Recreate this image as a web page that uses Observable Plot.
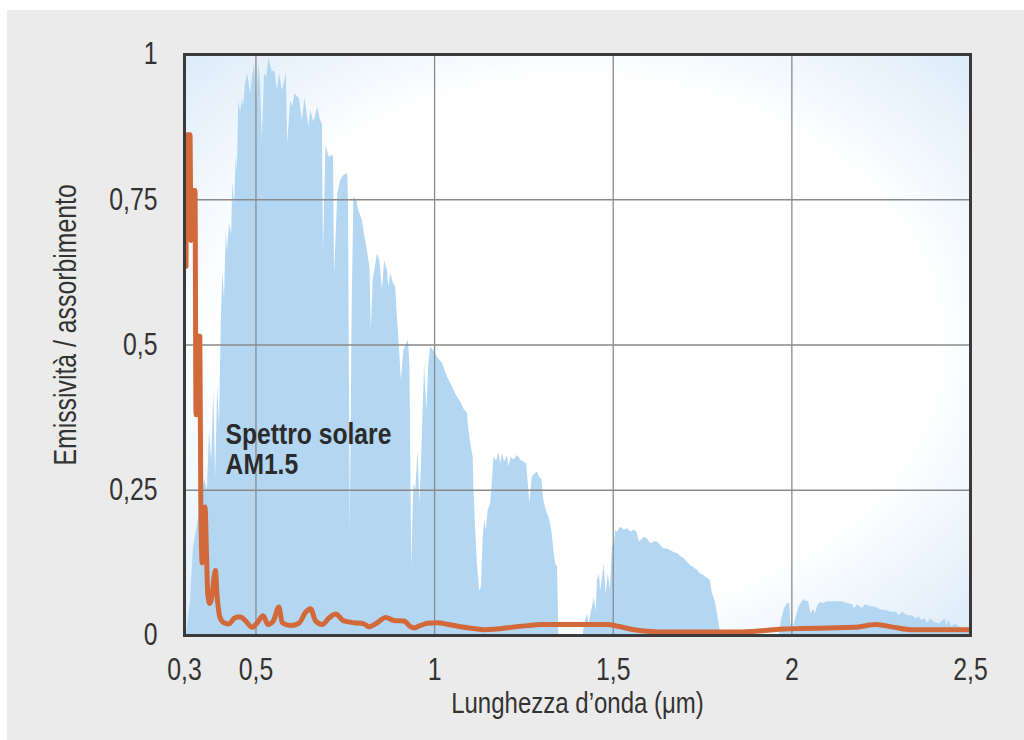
<!DOCTYPE html>
<html><head><meta charset="utf-8">
<script src="https://cdn.jsdelivr.net/npm/d3@7"></script>
<script src="https://cdn.jsdelivr.net/npm/@observablehq/plot@0.6"></script>
<style>
html,body{margin:0;padding:0;background:#fff;width:1024px;height:740px;overflow:hidden}
#bg{position:absolute;left:7px;top:10px;width:1017px;height:730px;background:#ebebeb}
#chart{position:absolute;left:0;top:0}
</style></head><body><div id="bg"></div><div id="chart"></div>
<script>
// Solar spectrum AM1.5 (normalised), [wavelength µm, value]
const solarUV = [[0.300,0],[0.305,0],[0.317,0.06],[0.325,0.15],[0.336,0.19],[0.345,0.22],[0.356,0.27],[0.364,0.25],[0.370,0.35],[0.376,0.30],[0.382,0.42],[0.387,0.27],[0.393,0.43],[0.398,0.36],[0.403,0.54],[0.407,0.625],[0.412,0.58],[0.417,0.70],[0.420,0.66],[0.426,0.71],[0.432,0.69],[0.435,0.78],[0.440,0.74],[0.445,0.826],[0.448,0.80],[0.452,0.921],[0.457,0.90],[0.462,0.924],[0.465,0.91],[0.471,0.95],[0.476,0.967],[0.480,0.955],[0.485,0.932],[0.490,0.96],[0.496,0.984],[0.502,0.921],[0.508,0.984],[0.513,0.95],[0.518,0.852],[0.524,0.967],[0.530,0.96],[0.536,0.993],[0.546,0.970],[0.553,0.972],[0.560,0.938]];
const solarVisible = [[0.566,0.967],[0.574,0.938],[0.585,0.967],[0.589,0.846],[0.597,0.921],[0.603,0.91],[0.609,0.932],[0.622,0.924],[0.630,0.886],[0.637,0.926],[0.643,0.90],[0.648,0.875],[0.653,0.904],[0.662,0.884],[0.673,0.909],[0.681,0.886],[0.686,0.881],[0.689,0.66],[0.696,0.843],[0.705,0.823],[0.717,0.826],[0.720,0.62],[0.729,0.76],[0.737,0.783],[0.746,0.792],[0.757,0.795],[0.759,0.74],[0.764,0.176],[0.769,0.55],[0.774,0.754],[0.782,0.749],[0.788,0.731],[0.798,0.714]];
const solarNIR1 = [[0.802,0.697],[0.810,0.67],[0.819,0.634],[0.823,0.525],[0.828,0.61],[0.840,0.657],[0.847,0.645],[0.854,0.594],[0.860,0.645],[0.868,0.628],[0.872,0.60],[0.877,0.623],[0.885,0.606],[0.891,0.60],[0.896,0.548],[0.901,0.502],[0.907,0.439],[0.914,0.49],[0.922,0.502],[0.927,0.508],[0.931,0.462],[0.936,0.117],[0.942,0.261],[0.947,0.25],[0.954,0.318],[0.959,0.226],[0.966,0.347],[0.972,0.468],[0.978,0.387],[0.984,0.468],[0.989,0.496],[0.998,0.49],[1.008,0.479]];
const solarNIR2 = [[1.022,0.468],[1.036,0.445],[1.045,0.434],[1.054,0.422],[1.064,0.41],[1.073,0.402],[1.082,0.39],[1.092,0.382],[1.096,0.353],[1.103,0.324],[1.108,0.307],[1.110,0.255],[1.115,0.181],[1.120,0.123],[1.126,0.077],[1.131,0.083],[1.136,0.169],[1.140,0.198],[1.145,0.181],[1.150,0.215],[1.157,0.227],[1.162,0.267],[1.166,0.307],[1.174,0.30],[1.180,0.316],[1.185,0.295],[1.190,0.313],[1.196,0.298],[1.204,0.31],[1.208,0.29],[1.215,0.307],[1.222,0.302],[1.232,0.31],[1.241,0.302],[1.250,0.298],[1.258,0.295],[1.261,0.27],[1.267,0.227],[1.273,0.272],[1.280,0.278],[1.288,0.281],[1.294,0.272],[1.300,0.27],[1.306,0.232],[1.314,0.212],[1.320,0.204],[1.328,0.181],[1.334,0.146],[1.339,0.123],[1.344,0.118],[1.348,0]];
const solarNIR3 = [[1.416,0],[1.420,0.02],[1.428,0.037],[1.432,0.02],[1.442,0.049],[1.447,0.066],[1.452,0.04],[1.456,0.095],[1.461,0.106],[1.465,0.077],[1.475,0.123],[1.480,0.07],[1.486,0.106],[1.492,0.08],[1.498,0.152],[1.503,0.155],[1.507,0.181],[1.512,0.177],[1.517,0.184],[1.523,0.186],[1.531,0.181],[1.540,0.184],[1.549,0.178],[1.559,0.181],[1.566,0.178],[1.573,0.161],[1.579,0.164],[1.587,0.169],[1.596,0.166],[1.605,0.158],[1.615,0.161],[1.624,0.161],[1.633,0.155],[1.643,0.149],[1.652,0.149],[1.661,0.146],[1.670,0.143],[1.680,0.141],[1.689,0.136],[1.699,0.132],[1.708,0.126],[1.717,0.12],[1.727,0.116],[1.736,0.112],[1.745,0.106],[1.755,0.103],[1.764,0.098],[1.771,0.095],[1.778,0.072],[1.787,0.055],[1.792,0.037],[1.801,0]];
const solarNIR4 = [[1.965,0],[1.971,0.026],[1.979,0.046],[1.988,0.055],[1.994,0.055],[1.997,0.02],[2.005,0.015],[2.011,0.029],[2.020,0.049],[2.029,0.058],[2.035,0.062],[2.041,0.058],[2.047,0.059],[2.053,0.037],[2.061,0.045],[2.065,0.037],[2.073,0.052],[2.081,0.057],[2.090,0.055],[2.098,0.058],[2.119,0.058],[2.142,0.058],[2.156,0.055],[2.170,0.053],[2.175,0.046],[2.184,0.053],[2.192,0.049],[2.197,0.046],[2.206,0.053],[2.220,0.050],[2.236,0.048],[2.250,0.044],[2.264,0.043],[2.278,0.040],[2.292,0.040],[2.301,0.034],[2.310,0.040],[2.324,0.034],[2.338,0.034],[2.347,0.029],[2.357,0.032],[2.364,0.026],[2.372,0.029],[2.380,0.021],[2.389,0.029],[2.399,0.023],[2.413,0.020],[2.429,0.029],[2.434,0.017],[2.440,0.026],[2.447,0.015],[2.460,0.020],[2.466,0.015],[2.492,0.012],[2.500,0.010]];

// Emissivity / absorption curve, [wavelength µm, value]
const emissivityUV = [[0.3042,0.635],[0.3070,0.862],[0.3154,0.862],[0.3182,0.68],[0.3210,0.766],[0.3294,0.766],[0.3322,0.38],[0.3350,0.515],[0.3429,0.515],[0.3457,0.22],[0.3496,0.125],[0.3532,0.20],[0.3574,0.221],[0.3616,0.14],[0.3653,0.07],[0.3709,0.055],[0.3776,0.07],[0.3826,0.10],[0.3868,0.112],[0.3910,0.07],[0.3952,0.045],[0.3989,0.032]];
const emissivityVisible = [[0.4101,0.022],[0.4241,0.02],[0.4381,0.029],[0.4485,0.032],[0.4569,0.032],[0.4709,0.025],[0.4896,0.014],[0.5036,0.022],[0.5204,0.034],[0.5333,0.019],[0.5485,0.025],[0.5641,0.049],[0.5737,0.022],[0.5969,0.017],[0.6202,0.021],[0.6389,0.04],[0.6529,0.046],[0.6669,0.025],[0.6857,0.019],[0.7042,0.03],[0.7230,0.037],[0.7462,0.025],[0.7742,0.022],[0.8022,0.02],[0.8162,0.015],[0.8398,0.022],[0.8630,0.031],[0.8863,0.026],[0.9143,0.025],[0.9331,0.015],[0.9423,0.013],[0.9555,0.016],[0.9798,0.021]];
const emissivityIR = [[1.0078,0.022],[1.0395,0.019],[1.0731,0.015],[1.1104,0.012],[1.1384,0.010],[1.1739,0.011],[1.2132,0.014],[1.2599,0.017],[1.2972,0.019],[1.3532,0.019],[1.4092,0.019],[1.4840,0.019],[1.5120,0.016],[1.5585,0.010],[1.6053,0.007],[1.6521,0.006],[1.7454,0.006],[1.8387,0.006],[1.8854,0.007],[1.9322,0.009],[1.9787,0.011],[2.0255,0.012],[2.1003,0.013],[2.1748,0.014],[2.2356,0.019],[2.2868,0.014],[2.3336,0.010],[2.4269,0.010],[2.4969,0.010]];

const xTickValues = [0.3, 0.5, 1, 1.5, 2, 2.5];
const xTickLabels = ["0,3", "0,5", "1", "1,5", "2", "2,5"];
const xGridValues = [0.5, 1, 1.5, 2];
const yTickValues = [0, 0.25, 0.5, 0.75, 1];
const yTickLabels = ["0", "0,25", "0,5", "0,75", "1"];
const yGridValues = [0.25, 0.5, 0.75];
const xTitle = ["Lunghezza d’onda (μm)"];
const yTitle = ["Emissività / assorbimento"];
const annotation = ["Spettro solare\nAM1.5"];

const solar = [...solarUV, ...solarVisible, ...solarNIR1, ...solarNIR2, ...solarNIR3, ...solarNIR4];
const emissivity = [...emissivityUV, ...emissivityVisible, ...emissivityIR];

const FONT = '"Liberation Sans", Arial, sans-serif';
const SQUEEZE = 0.8;

const chart = Plot.plot({
  width: 1024,
  height: 740,
  marginLeft: 184,
  marginRight: 54,
  marginTop: 54,
  marginBottom: 105,
  style: {fontFamily: FONT, fontSize: "30px", color: "#333", background: "transparent", overflow: "visible"},
  x: {domain: [0.3, 2.5]},
  y: {domain: [0, 1]},
  marks: [
    Plot.frame({fill: "url(#plotBg)"}),
    Plot.areaY(solar, {x: d => d[0], y: d => d[1], fill: "#b3d7f3", curve: "linear"}),
    Plot.gridX(xGridValues, {stroke: "#8a8a8a", strokeOpacity: 1, strokeWidth: 1.3}),
    Plot.gridY(yGridValues, {stroke: "#8a8a8a", strokeOpacity: 1, strokeWidth: 1.3}),
    Plot.line(emissivity, {x: d => d[0], y: d => d[1], stroke: "#d2693a", strokeWidth: 5, curve: "monotone-x", strokeLinejoin: "round"}),
    Plot.text(annotation, {x: 0.415, y: 0.367, textAnchor: "start", lineAnchor: "top", lineHeight: 1.04, fontSize: 29, fontWeight: "bold", fill: "#2b2b2b", className: "annot"}),
    Plot.axisX(xTickValues, {tickSize: 0, tickPadding: 22, tickFormat: d => xTickLabels[xTickValues.indexOf(d)], label: null, fill: "#333", fontSize: 31}),
    Plot.axisY(yTickValues, {tickSize: 0, tickPadding: 27, tickFormat: d => yTickLabels[yTickValues.indexOf(d)], label: null, fill: "#333", fontSize: 31}),
    Plot.text(xTitle, {frameAnchor: "bottom", dy: 77, lineAnchor: "bottom", fill: "#333"}),
    Plot.text(yTitle, {frameAnchor: "left", dx: -118, dy: 120.5, rotate: -90, textAnchor: "start", lineAnchor: "middle", fontSize: 31, fill: "#333"}),
    Plot.frame({stroke: "#3a3a3a", strokeWidth: 3})
  ]
});

const svg = d3.select(chart);
const defs = svg.insert("defs", ":first-child");
const grad = defs.append("radialGradient").attr("id", "plotBg").attr("cx", "50%").attr("cy", "50%").attr("r", "71%");
grad.append("stop").attr("offset", "0%").attr("stop-color", "#ffffff");
grad.append("stop").attr("offset", "64%").attr("stop-color", "#ffffff");
grad.append("stop").attr("offset", "76%").attr("stop-color", "#f2f8fd");
grad.append("stop").attr("offset", "100%").attr("stop-color", "#dcebf9");

document.getElementById("chart").appendChild(chart);

// condensed look: squeeze glyphs horizontally
chart.querySelectorAll("text").forEach(t => {
  const spans = t.querySelectorAll("tspan");
  const els = spans.length ? Array.from(spans) : [t];
  const k = t.closest(".annot") ? 0.85 : SQUEEZE;
  els.forEach(el => {
    const w = el.getComputedTextLength();
    if (w > 0) {
      el.setAttribute("textLength", (w * k).toFixed(1));
      el.setAttribute("lengthAdjust", "spacingAndGlyphs");
    }
  });
});
</script></body></html>
